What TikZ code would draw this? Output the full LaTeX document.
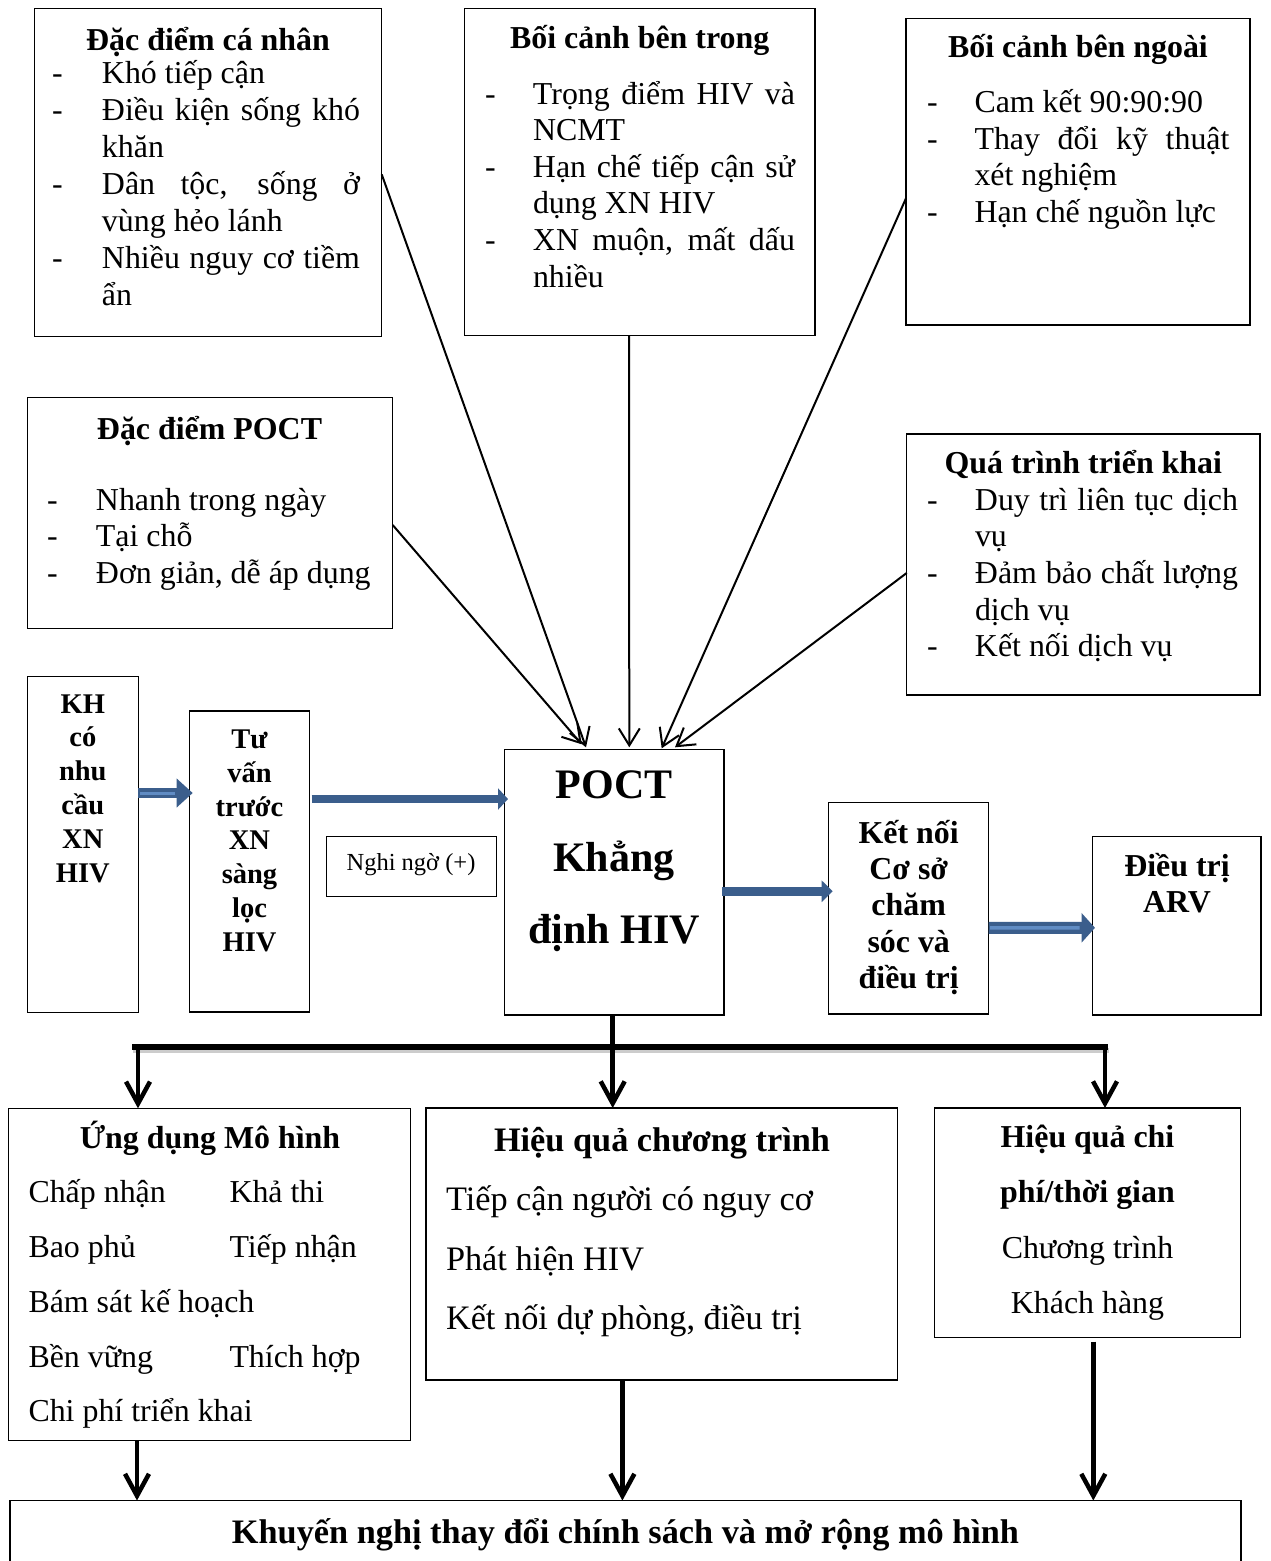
\documentclass[tikz,border=0pt]{standalone}
\usepackage{fontspec}
\setmainfont{Liberation Serif}
\usetikzlibrary{arrows.meta,calc}
\definecolor{bdark}{RGB}{59,94,140}
\definecolor{blight}{RGB}{96,140,196}
% list helpers: dash column width \dw, justified text width \tw
\newlength\dw \newlength\tw
\newcommand\Di[1]{\hbox{\makebox[\dw][l]{-}#1}}
\newcommand\Dj[1]{\hbox{\makebox[\dw][l]{-}\makebox[\tw][s]{#1}}}
\newcommand\Ci[1]{\hbox{\hspace*{\dw}#1}}
\newcommand\Cl[1]{\hbox to \tw{\hfil#1\hfil}}
\newcommand\Stack[2]{\vtop{\baselineskip=#1\relax\lineskiplimit=-\maxdimen\lineskip=0pt\relax #2}}
\newcommand\fA{\fontsize{31.9pt}{36.7pt}\selectfont}
\newcommand\fB{\fontsize{34.3pt}{39.5pt}\selectfont}
\newcommand\fC{\fontsize{42pt}{48pt}\selectfont}
\newcommand\fD{\fontsize{24.5pt}{28pt}\selectfont}
\newcommand\fE{\fontsize{28.5pt}{33.8pt}\selectfont}
\tikzset{
  bx/.style={draw, line width=1.3pt, inner sep=0pt, outer sep=0pt, anchor=north west},
  tx/.style={inner sep=0pt, outer sep=0pt},
  ln/.style={line width=2pt, -{Straight Barb[length=17pt,width=21pt]}},
  drop/.style={line width=4.5pt, -{Straight Barb[length=22pt,width=24pt]}},
}
\begin{document}
\begin{tikzpicture}[x=1pt,y=-1pt]
\fill[white] (0,0) rectangle (1270,1561);
\useasboundingbox (0,0) rectangle (1270,1561);

% ---------- top row ----------
\node[bx, minimum width=347.4pt, minimum height=328.4pt] (cn) at (34.3,8.3) {};
\node[tx, font=\fA\bfseries, anchor=base] (cnH) at (208,50) {Đặc điểm cá nhân};
\node[tx, font=\fA, anchor=base west] (cnL) at (52,83) {\setlength\dw{50pt}\setlength\tw{258pt}\Stack{37pt}{\Di{Khó tiếp cận}\Dj{Điều kiện sống khó}\Ci{khăn}\Dj{Dân tộc, sống ở}\Ci{vùng hẻo lánh}\Dj{Nhiều nguy cơ tiềm}\Ci{ẩn}}};

\node[bx, minimum width=350.6pt, minimum height=327.4pt] (bt) at (464.4,8.3) {};
\node[tx, font=\fA\bfseries, anchor=base] (btH) at (639.7,48) {Bối cảnh bên trong};
\node[tx, font=\fA, anchor=base west] (btL) at (485,104) {\setlength\dw{48pt}\setlength\tw{262pt}\Stack{36.6pt}{\Dj{Trọng điểm HIV và}\Ci{NCMT}\Dj{Hạn chế tiếp cận sử}\Ci{dụng XN HIV}\Dj{XN muộn, mất dấu}\Ci{nhiều}}};

\node[bx, minimum width=344pt, minimum height=306.7pt] (bn) at (906,18.3) {};
\node[tx, font=\fA\bfseries, anchor=base] (bnH) at (1078,57) {Bối cảnh bên ngoài};
\node[tx, font=\fA, anchor=base west] (bnL) at (927,112.5) {\setlength\dw{47.5pt}\setlength\tw{255pt}\Stack{36.6pt}{\Di{Cam kết 90:90:90}\Dj{Thay đổi kỹ thuật}\Ci{xét nghiệm}\Di{Hạn chế nguồn lực}}};

% ---------- second row ----------
\node[bx, minimum width=365.4pt, minimum height=231.3pt] (pf) at (27.3,397.3) {};
\node[tx, font=\fA\bfseries, anchor=base] (pfH) at (209.5,439) {Đặc điểm POCT};
\node[tx, font=\fA, anchor=base west] (pfL) at (47,510) {\setlength\dw{49pt}\Stack{36.5pt}{\Di{Nhanh trong ngày}\Di{Tại chỗ}\Di{Đơn giản, dễ áp dụng}}};

\node[bx, minimum width=353.3pt, minimum height=261pt] (qt) at (906.7,434) {};
\node[tx, font=\fA\bfseries, anchor=base] (qtH) at (1083.3,473.3) {Quá trình triển khai};
\node[tx, font=\fA, anchor=base west] (qtL) at (927,510) {\setlength\dw{48pt}\setlength\tw{263pt}\Stack{36.7pt}{\Dj{Duy trì liên tục dịch}\Ci{vụ}\Dj{Đảm bảo chất lượng}\Ci{dịch vụ}\Di{Kết nối dịch vụ}}};

% ---------- process row ----------
\node[bx, minimum width=111pt, minimum height=336.2pt] (kh) at (27.3,676.6) {};
\node[tx, font=\fE\bfseries, anchor=base] (khL) at (82.8,713) {\setlength\tw{105pt}\Stack{33.8pt}{\Cl{KH}\Cl{có}\Cl{nhu}\Cl{cầu}\Cl{XN}\Cl{HIV}}};

\node[bx, minimum width=120.4pt, minimum height=301pt] (tv) at (189.3,711) {};
\node[tx, font=\fE\bfseries, anchor=base] (tvL) at (249.5,748.5) {\setlength\tw{115pt}\Stack{33.8pt}{\Cl{Tư}\Cl{vấn}\Cl{trước}\Cl{XN}\Cl{sàng}\Cl{lọc}\Cl{HIV}}};

\node[bx, minimum width=170pt, minimum height=60pt] (ng) at (326.7,836.7) {};
\node[tx, font=\fD, anchor=base] (ngL) at (411,870) {Nghi ngờ (+)};

\node[bx, minimum width=219.7pt, minimum height=265.7pt] (pc) at (504.3,749.3) {};
\node[tx, font=\fC\bfseries, anchor=base] (pcL) at (614,798.5) {\setlength\tw{215pt}\Stack{72.5pt}{\Cl{POCT}\Cl{Khẳng}\Cl{định HIV}}};

\node[bx, minimum width=160pt, minimum height=211.5pt] (kn) at (828.7,802.5) {};
\node[tx, font=\fA\bfseries, anchor=base] (knL) at (908.7,843) {\setlength\tw{155pt}\Stack{36.4pt}{\Cl{Kết nối}\Cl{Cơ sở}\Cl{chăm}\Cl{sóc và}\Cl{điều trị}}};

\node[bx, minimum width=168.3pt, minimum height=178.6pt] (arv) at (1092.7,836.4) {};
\node[tx, font=\fA\bfseries, anchor=base] (arvL) at (1177,876) {\setlength\tw{160pt}\Stack{36.5pt}{\Cl{Điều trị}\Cl{ARV}}};

% ---------- outcome row ----------
\node[bx, minimum width=402.4pt, minimum height=332.4pt] (ud) at (8.3,1108.3) {};
\node[tx, font=\fA\bfseries, anchor=base] (udH) at (210,1148) {Ứng dụng Mô hình};
\node[tx, font=\fA, anchor=base west] (udL) at (28.5,1202.7) {\Stack{54.8pt}{\hbox{\makebox[201pt][l]{Chấp nhận}Khả thi}\hbox{\makebox[201pt][l]{Bao phủ}Tiếp nhận}\hbox{Bám sát kế hoạch}\hbox{\makebox[201pt][l]{Bền vững}Thích hợp}\hbox{Chi phí triển khai}}};

\node[bx, minimum width=471.7pt, minimum height=272pt] (hq) at (426,1108) {};
\node[tx, font=\fB\bfseries, anchor=base] (hqH) at (662,1151) {Hiệu quả chương trình};
\node[tx, font=\fB, anchor=base west] (hqL) at (446,1210.5) {\Stack{59.5pt}{\hbox{Tiếp cận người có nguy cơ}\hbox{Phát hiện HIV}\hbox{Kết nối dự phòng, điều trị}}};

\node[bx, minimum width=306.4pt, minimum height=229.5pt] (cp) at (934.3,1108) {};
\node[tx, font=\fA, anchor=base] (cpL) at (1087.5,1147.5) {\setlength\tw{300pt}\Stack{55.3pt}{\Cl{\bfseries Hiệu quả chi}\Cl{\bfseries phí/thời gian}\Cl{Chương trình}\Cl{Khách hàng}}};

\node[bx, minimum width=1231pt, minimum height=90pt] (kg) at (10,1500.5) {};
\node[tx, font=\fB\bfseries, anchor=base] (kgL) at (625.5,1543) {Khuyến nghị thay đổi chính sách và mở rộng mô hình};

% ---------- influences on POCT ----------
\draw[ln] ($(cn.north east)+(0,166)$) -- ($(pc.north west)+(81.7,-2)$);
\draw[ln] ($(pf.north east)+(0,127.7)$) -- ($(pc.north west)+(77.4,-5)$);
\draw[ln] ($(bt.south west)+(164.6,0)$) -- ($(pc.north west)+(125,-2)$);
\draw[ln] ($(bn.north west)+(0,180)$) -- ($(pc.north west)+(157.4,-1)$);
\draw[ln] ($(qt.north west)+(0,139)$) -- ($(pc.north west)+(170.7,-2)$);

% ---------- block arrows of the process ----------
\draw[bdark, line width=10pt, -{Triangle[length=16pt,width=28pt]}] ($(kh.north east)+(0,116.4)$) -- ($(tv.north west)+(3.4,82)$);
\draw[blight, line width=3pt] ($(kh.north east)+(1.5,116.4)$) -- ($(tv.north west)+(-14,82)$);
\draw[bdark, line width=8.5pt, -{Triangle[length=10pt,width=21pt]}] ($(tv.north east)+(2,88)$) -- ($(pc.north west)+(3.7,49.7)$);
\draw[bdark, line width=9.5pt, -{Triangle[length=11pt,width=21pt]}] ($(pc.north east)+(-2,142)$) -- ($(kn.north west)+(4,88.8)$);
\draw[bdark, line width=12pt, -{Triangle[length=13.5pt,width=29pt]}] ($(kn.north east)+(0,125.3)$) -- ($(arv.north west)+(2.3,91.4)$);
\draw[blight, line width=3.5pt] ($(kn.north east)+(1.5,125.3)$) -- ($(arv.north west)+(-13,91.4)$);

% ---------- distribution bar ----------
\coordinate (bL) at (132,1047);
\coordinate (bR) at (1108,1047);
\coordinate (dL) at (138,1047);
\coordinate (dM) at (612.7,1047);
\coordinate (dR) at (1105,1047);
\draw[line width=5pt, black!20] ($(bL)+(1,3)$) -- ($(bR)+(1,3)$);
\draw[line width=5pt] (pc.south -| dM) -- (dM);
\draw[line width=6.5pt] (bL) -- (bR);
\draw[drop] (dL) -- (dL |- ud.north);
\draw[drop] (dM) -- (dM |- hq.north);
\draw[drop] (dR) -- (dR |- cp.north);

% ---------- towards the recommendation ----------
\draw[drop] ($(ud.south west)+(128.7,0)$) -- ($(kg.north west)+(127,0)$);
\draw[drop] ($(hq.south west)+(196.4,0)$) -- ($(kg.north west)+(612.4,0)$);
\draw[drop] ($(cp.south west)+(159,4)$) -- ($(kg.north west)+(1083.3,0)$);
\end{tikzpicture}
\end{document}
